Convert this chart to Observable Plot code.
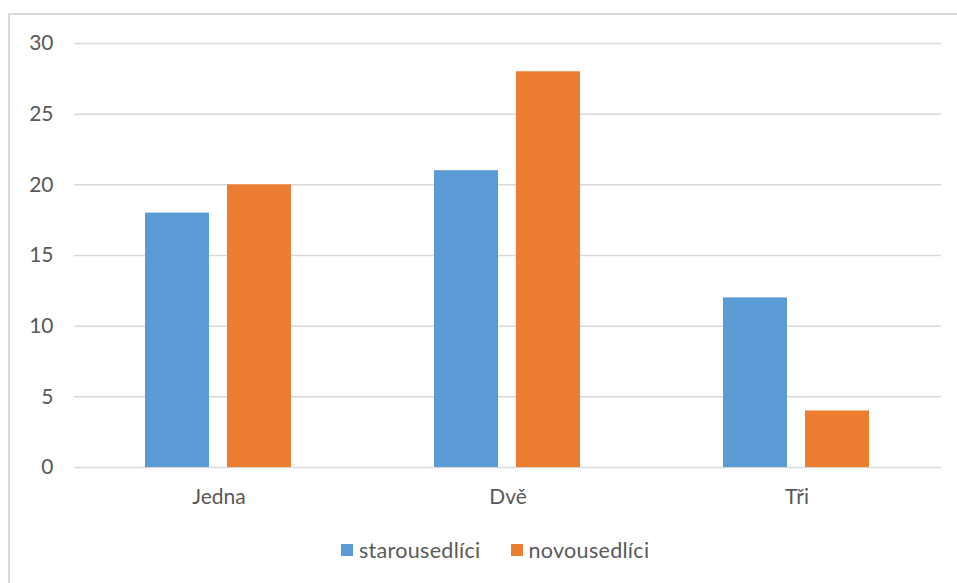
<!DOCTYPE html>
<html>
<head>
<meta charset="utf-8">
<script src="https://cdn.jsdelivr.net/npm/d3@7"></script>
<script src="https://cdn.jsdelivr.net/npm/@observablehq/plot@0.6"></script>
<style>
  html, body { margin: 0; padding: 0; background: #fff; overflow: hidden; }
  #wrap { position: relative; width: 957px; height: 583px; overflow: hidden; font-family: Lato, "Open Sans", sans-serif; }
  #frame { position: absolute; left: 8px; top: 13px; width: 1000px; height: 1000px; border: 2px solid #d9d9d9; box-sizing: border-box; }
  #chart { position: absolute; left: 0; top: 0; }
  #legend { position: absolute; left: 341px; top: 537px; display: flex; align-items: center; font-size: 21.5px; color: #595959; letter-spacing: 0.3px; }
  .item { display: flex; align-items: center; }
  .sw { width: 12px; height: 12px; margin-right: 6px; }
</style>
</head>
<body>
<div id="wrap">
  <div id="frame"></div>
  <div id="chart"></div>
  <div id="legend"></div>
</div>
<script>
const categories = ["Jedna", "Dvě", "Tři"];
const seriesNames = ["starousedlíci", "novousedlíci"];
const starousedlici = [18, 21, 12];
const novousedlici = [20, 28, 4];
const colors = ["#5B9BD5", "#ED7D31"];
const yTicks = [0, 5, 10, 15, 20, 25, 30];

const data = [];
categories.forEach((c, i) => {
  data.push({category: c, series: seriesNames[0], value: starousedlici[i]});
  data.push({category: c, series: seriesNames[1], value: novousedlici[i]});
});

const chart = Plot.plot({
  width: 957,
  height: 520,
  marginTop: 43,
  marginBottom: 53,
  marginLeft: 73,
  marginRight: 16,
  style: {fontFamily: "Lato, 'Open Sans', sans-serif", fontSize: "21px", color: "#595959", background: "transparent"},
  fx: {domain: categories, padding: 0, label: null, axis: "bottom", tickSize: 0, tickPadding: 22},
  x: {domain: seriesNames, paddingInner: 0.217, paddingOuter: 0.85, axis: null},
  y: {domain: [0, 30], ticks: yTicks, label: null, tickSize: 0, tickPadding: 21},
  color: {domain: seriesNames, range: colors},
  marks: [
    Plot.ruleY(yTicks, {stroke: "#d9d9d9", strokeWidth: 1.5, strokeOpacity: 1}),
    Plot.barY(data, {fx: "category", x: "series", y: "value", fill: "series"})
  ]
});
chart.querySelectorAll("g[aria-label='y-axis tick label'] text, g[aria-label='fx-axis tick label'] text").forEach(t => t.setAttribute("fill", "#595959"));
document.getElementById("chart").appendChild(chart);

const legend = document.getElementById("legend");
seriesNames.forEach((s, i) => {
  const it = document.createElement("div");
  it.className = "item";
  if (i > 0) it.style.marginLeft = "30px";
  const sw = document.createElement("div");
  sw.className = "sw";
  sw.style.background = colors[i];
  const tx = document.createElement("span");
  tx.textContent = s;
  it.appendChild(sw);
  it.appendChild(tx);
  legend.appendChild(it);
});
</script>
</body>
</html>
